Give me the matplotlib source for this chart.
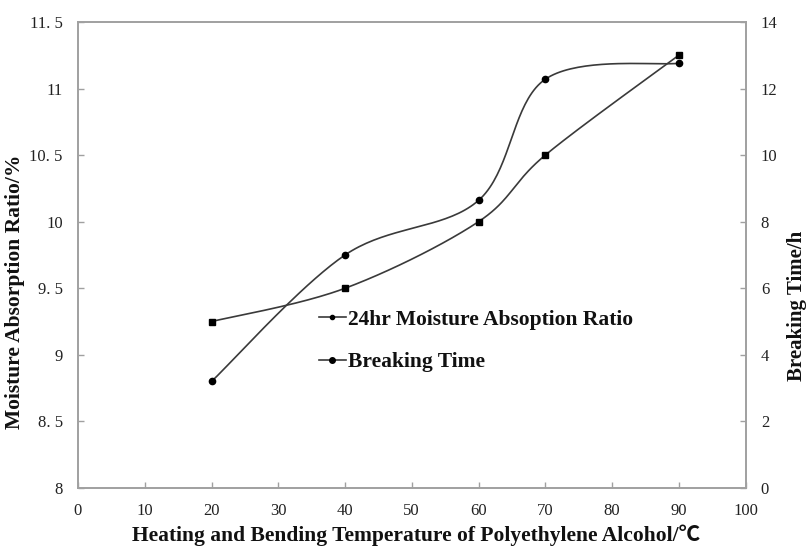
import numpy as np
import matplotlib
matplotlib.use("Agg")
import matplotlib.pyplot as plt
from matplotlib.lines import Line2D

# ---- data ----
temperature = [20, 40, 60, 70, 90]
moisture_ratio = [8.80, 9.75, 10.16, 11.07, 11.19]
breaking_time = [5, 6, 8, 10, 13]

x_ticks = list(range(0, 101, 10))
left_ticks = [8, 8.5, 9, 9.5, 10, 10.5, 11, 11.5]
left_labels = ["8", "8. 5", "9", "9. 5", "10", "10. 5", "11", "11. 5"]
right_ticks = list(range(0, 15, 2))

x_label = "Heating and Bending Temperature of Polyethylene Alcohol/℃"
left_label = "Moisture Absorption Ratio/%"
right_label = "Breaking Time/h"
legend_labels = ["24hr Moisture Absoption Ratio", "Breaking Time"]

serif = ["Liberation Serif", "Noto Sans CJK SC", "DejaVu Serif"]
plt.rcParams["font.family"] = serif

W, H = 808, 549
fig = plt.figure(figsize=(W / 100, H / 100), dpi=100)
fig.patch.set_facecolor("white")
L, R, T, B = 78, 745.5, 22, 488
ax = fig.add_axes([L / W, 1 - B / H, (R - L) / W, (B - T) / H])
ax2 = ax.twinx()

ax.set_xlim(0, 100)
ax.set_ylim(8, 11.5)
ax2.set_ylim(0, 14)

spine_c = "#a0a0a0"
for a in (ax, ax2):
    for s in a.spines.values():
        s.set_color(spine_c)
        s.set_linewidth(1.2)

ax.set_xticks(x_ticks)
ax.set_xticklabels([str(v) for v in x_ticks])
ax.set_yticks(left_ticks)
ax.set_yticklabels(left_labels)
ax2.set_yticks(right_ticks)
ax2.set_yticklabels([str(v) for v in right_ticks])

ax.tick_params(axis="x", direction="in", length=4, width=1, color=spine_c,
               labelsize=12, pad=11, labelcolor="#222222")
ax.tick_params(axis="y", direction="in", length=4, width=1, color=spine_c,
               labelsize=12, pad=11, labelcolor="#222222")
ax2.tick_params(axis="y", direction="in", length=4, width=1, color=spine_c,
                labelsize=12, pad=11, labelcolor="#222222")


def smooth(a, xs, ys, n=40):
    pts = a.transData.transform(np.column_stack([xs, ys]))
    P = np.vstack([pts[0], pts, pts[-1]])
    out = []
    t = np.linspace(0, 1, n)[:, None]
    for i in range(1, len(P) - 2):
        p0, p1, p2, p3 = P[i - 1], P[i], P[i + 1], P[i + 2]
        c1 = p1 + (p2 - p0) / 6
        c2 = p2 - (p3 - p1) / 6
        seg = ((1 - t) ** 3) * p1 + 3 * ((1 - t) ** 2) * t * c1 \
            + 3 * (1 - t) * (t ** 2) * c2 + (t ** 3) * p2
        out.append(seg if i == 1 else seg[1:])
    out = np.vstack(out)
    d = a.transData.inverted().transform(out)
    return d[:, 0], d[:, 1]


line_c = "#3a3a3a"
sx, sy = smooth(ax, temperature, moisture_ratio)
ax.plot(sx, sy, color=line_c, lw=1.2, zorder=3)
ax.plot(temperature, moisture_ratio, ls="none", marker="o", ms=4.5,
        color="black", zorder=4)

bx, by = smooth(ax2, temperature, breaking_time)
ax2.plot(bx, by, color=line_c, lw=1.2, zorder=3)
ax2.plot(temperature, breaking_time, ls="none", marker="s", ms=5,
         color="black", zorder=4)

bold = dict(fontsize=15.5, fontweight="bold", color="#111111", family=serif)
ax.set_xlabel(x_label, **bold)
ax.xaxis.set_label_coords(0.506, -0.078)
ax.set_ylabel(left_label, **bold)
ax.yaxis.set_label_coords(-0.08, 0.42)
ax2.set_ylabel(right_label, fontsize=15, fontweight="bold", color="#111111",
               family=serif)
ax2.yaxis.set_label_coords(1.062, 0.39)

handles = [
    Line2D([], [], color=line_c, lw=1.2, marker="o", ms=3, mfc="black", mec="black"),
    Line2D([], [], color=line_c, lw=1.2, marker="o", ms=4, mfc="black", mec="black"),
]
leg = ax2.legend(handles, legend_labels, loc="center left",
                 bbox_to_anchor=(319 / W, 1 - 341 / H),
                 bbox_transform=fig.transFigure, frameon=False,
                 borderpad=0, borderaxespad=0, handlelength=1.25,
                 handletextpad=0.1, labelspacing=1.05,
                 prop=dict(family=serif, size=15.5, weight="bold"))
for txt in leg.get_texts():
    txt.set_color("#111111")

fig.savefig("out.png", dpi=100, facecolor="white")
